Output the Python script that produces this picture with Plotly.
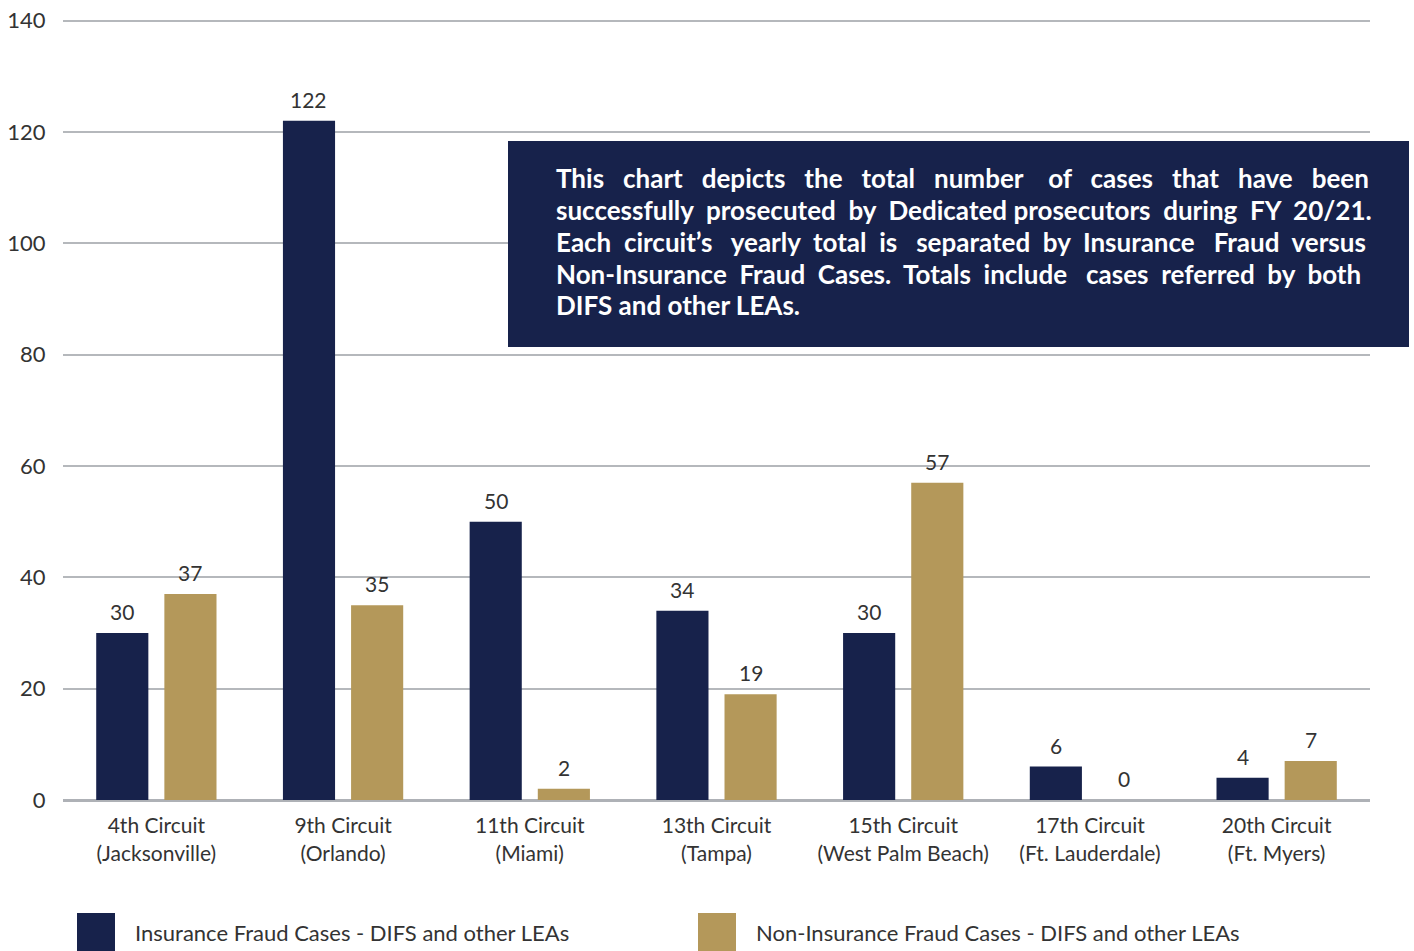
import plotly.graph_objects as go

categories = ["4th Circuit<br>(Jacksonville)", "9th Circuit<br>(Orlando)", "11th Circuit<br>(Miami)",
              "13th Circuit<br>(Tampa)", "15th Circuit<br>(West Palm Beach)", "17th Circuit<br>(Ft. Lauderdale)",
              "20th Circuit<br>(Ft. Myers)"]
insurance = [30, 122, 50, 34, 30, 6, 4]
non_insurance = [37, 35, 2, 19, 57, 0, 7]
series_names = ["Insurance Fraud Cases - DIFS and other LEAs",
                "Non-Insurance Fraud Cases - DIFS and other LEAs"]
y_ticks = [0, 20, 40, 60, 80, 100, 120, 140]
note_lines = [
    "This chart depicts the total number of cases that have been",
    "successfully prosecuted by Dedicated prosecutors during FY 20/21.",
    "Each circuit’s yearly total is separated by Insurance Fraud versus",
    "Non-Insurance Fraud Cases. Totals include cases referred by both",
    "DIFS and other LEAs.",
]

NAVY = "#17224b"
GOLD = "#b4985a"
TXT = "#333333"
FONT = "Lato"

W, H = 1414, 951
ML, MR, MT, MB = 63, 44, 19, 151
PW = W - ML - MR
PH = H - MT - MB
BARGAP, GROUPGAP = 0.27, 0.235

fig = go.Figure()
for name, vals, col in [(series_names[0], insurance, NAVY), (series_names[1], non_insurance, GOLD)]:
    fig.add_trace(go.Bar(
        x=categories, y=vals, name=name, marker=dict(color=col, line=dict(width=0)),
        showlegend=False, hoverinfo="x+y+name",
    ))

# value labels above bars (offset of each bar within its group derived from bargap)
slot = (1 - BARGAP) * (PW / len(categories)) / 2
for k_s, vals in enumerate([insurance, non_insurance]):
    shift = (k_s - 0.5) * slot
    for c, v in zip(categories, vals):
        fig.add_annotation(x=c, y=v, xref="x", yref="y", text=str(v), showarrow=False,
                           xshift=shift, yanchor="bottom", yshift=7,
                           font=dict(family=FONT, size=21, color=TXT))

fig.update_layout(
    width=W, height=H,
    margin=dict(l=ML, r=MR, t=MT, b=MB, autoexpand=False),
    paper_bgcolor="white", plot_bgcolor="white",
    barmode="group", bargap=BARGAP, bargroupgap=GROUPGAP,
    font=dict(family=FONT, size=22, color=TXT),
    xaxis=dict(showgrid=False, ticks="outside", ticklen=7, tickcolor="rgba(0,0,0,0)", showline=False,
               automargin=False, tickfont=dict(family=FONT, size=21, color=TXT)),
    yaxis=dict(range=[0, 140.3], tickvals=y_ticks, showgrid=True, gridcolor="#b5b8bc", gridwidth=2,
               zeroline=True, zerolinecolor="#aeb1b6", zerolinewidth=2.5, showline=False,
               automargin=False, ticks="outside", ticklen=12, tickcolor="rgba(0,0,0,0)",
               tickfont=dict(family=FONT, size=22, color=TXT)),
)

def px_x(p):
    return (p - ML) / PW

def px_y(p):
    return (H - MB - p) / PH

# Note box
fig.add_shape(type="rect", xref="paper", yref="paper", x0=px_x(508), x1=px_x(1409), y0=px_y(347), y1=px_y(141),
              fillcolor=NAVY, line=dict(width=0), layer="above")

# approximate Lato Bold advance widths (em) for justification
CW = dict(zip("abcdefghijklmnopqrstuvwxyz",
              [.51, .56, .46, .56, .52, .33, .50, .56, .25, .25, .51, .25, .84, .56, .56, .56, .56, .38, .43, .36,
               .56, .52, .79, .51, .52, .46]))
CW.update(dict(zip("ABCDEFGHIJKLMNOPQRSTUVWXYZ",
                   [.67, .64, .67, .74, .56, .54, .72, .75, .29, .40, .66, .50, .90, .75, .79, .60, .79, .63, .53,
                    .60, .72, .67, 1.0, .65, .63, .60])))
CW.update({d: .58 for d in "0123456789"})
CW.update({".": .22, ",": .22, "/": .38, "-": .35, "’": .22, " ": .193})

def est(s):
    return sum(CW.get(ch, .5) for ch in s)

FS = 26
kcal = 687 / (est(note_lines[1]) * 23)
NBSP = 0.2423 * FS
TARGET = 1366 - 554
line_y = [178, 210, 242, 274, 305]
for i, line in enumerate(note_lines):
    txt = line
    if i < len(note_lines) - 1:
        words = line.split(" ")
        nat = est(line) * kcal * FS
        n_sp = max(0, int(round((TARGET - nat) / NBSP)))
        gaps = len(words) - 1
        base, rem = divmod(n_sp, gaps)
        extra = [base] * gaps
        # spread the remaining spaces evenly across the line
        for r in range(rem):
            extra[int((r + 0.5) * gaps / rem)] += 1
        txt = words[0]
        for j, w in enumerate(words[1:]):
            txt += " " + "\u00a0" * extra[j] + w
    fig.add_annotation(xref="paper", yref="paper", x=px_x(554), y=px_y(line_y[i]), xanchor="left",
                       yanchor="middle", text=txt, showarrow=False, align="left",
                       font=dict(family=FONT, size=FS, color="white", weight="bold"))

# Custom legend
legend_px = [77, 698]
for i, (name, col) in enumerate(zip(series_names, [NAVY, GOLD])):
    x0 = legend_px[i]
    fig.add_shape(type="rect", xref="paper", yref="paper", x0=px_x(x0), x1=px_x(x0 + 38),
                  y0=px_y(953), y1=px_y(913), fillcolor=col, line=dict(width=0))
    fig.add_annotation(xref="paper", yref="paper", x=px_x(x0 + 56), y=px_y(933), xanchor="left",
                       yanchor="middle", text=name, showarrow=False,
                       font=dict(family=FONT, size=22, color=TXT))

fig.write_html("out.html", config={"displayModeBar": False},
               post_script="document.body.style.margin='0';document.body.style.overflow='hidden';")
